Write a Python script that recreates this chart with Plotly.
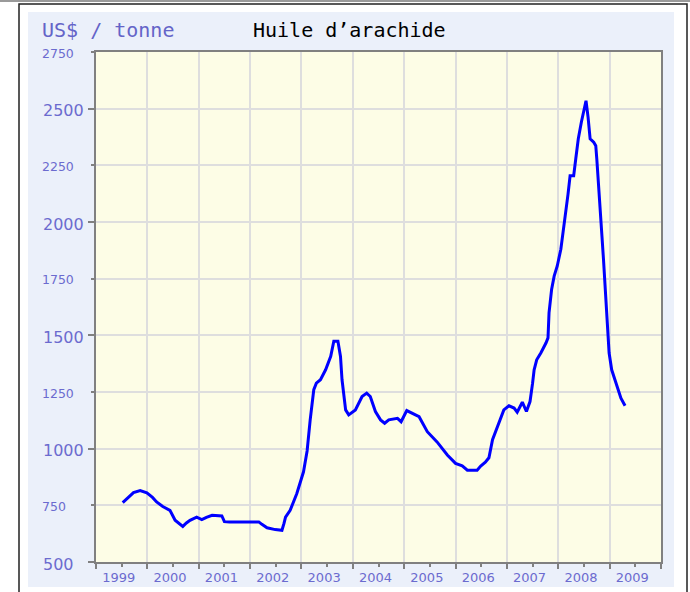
import plotly.graph_objects as go

# ---- data ----
years_t = [
    1999.52, 1999.62, 1999.73, 1999.86, 1999.99, 2000.10, 2000.18, 2000.30, 2000.44, 2000.54,
    2000.69, 2000.76, 2000.83, 2000.96, 2001.06, 2001.15, 2001.26, 2001.45, 2001.50, 2001.60,
    2001.80, 2002.00, 2002.17, 2002.23, 2002.33, 2002.49, 2002.62, 2002.66, 2002.69, 2002.78,
    2002.91, 2003.04, 2003.11, 2003.17, 2003.24, 2003.29, 2003.37, 2003.47, 2003.57, 2003.63,
    2003.71, 2003.76, 2003.79, 2003.86, 2003.92, 2004.05, 2004.18, 2004.27, 2004.34, 2004.44,
    2004.54, 2004.62, 2004.70, 2004.87, 2004.94, 2005.05, 2005.16, 2005.29, 2005.45, 2005.64,
    2005.84, 2006.00, 2006.13, 2006.23, 2006.42, 2006.49, 2006.58, 2006.65, 2006.72, 2006.80,
    2006.88, 2006.94, 2007.04, 2007.14, 2007.20, 2007.30, 2007.38, 2007.45, 2007.50, 2007.53,
    2007.58, 2007.66, 2007.76, 2007.80, 2007.82, 2007.87, 2007.92, 2007.98, 2008.05, 2008.11,
    2008.16, 2008.19, 2008.23, 2008.30, 2008.34, 2008.39, 2008.45, 2008.50, 2008.54, 2008.58,
    2008.62, 2008.69, 2008.73, 2008.75, 2008.78, 2008.82, 2008.85, 2008.88, 2008.91, 2008.93,
    2008.96, 2008.99, 2009.04, 2009.09, 2009.16, 2009.22, 2009.30,
]
price = [
    762, 785, 806, 815, 805, 785, 765, 745, 728, 684,
    657, 672, 684, 698, 687, 697, 706, 703, 678, 676,
    676, 676, 677, 666, 651, 643, 640, 670, 698, 728,
    802, 898, 990, 1127, 1260, 1289, 1304, 1348, 1407, 1474,
    1474, 1407, 1304, 1171, 1149, 1171, 1230, 1245, 1230, 1164,
    1127, 1112, 1127, 1134, 1119, 1168, 1156, 1141, 1075, 1030,
    972, 935, 924, 905, 905, 923, 940, 960, 1040, 1086,
    1141, 1171, 1189, 1179, 1161, 1205, 1164, 1208, 1289, 1348,
    1392, 1422, 1466, 1489, 1599, 1702, 1761, 1806, 1880, 1983,
    2057, 2123, 2204, 2204, 2278, 2367, 2441, 2500, 2535, 2463,
    2367, 2352, 2337, 2278, 2160, 2057, 1939, 1836, 1717, 1614,
    1496, 1422, 1348, 1311, 1260, 1223, 1189,
]

year_labels = ["1999", "2000", "2001", "2002", "2003", "2004",
               "2005", "2006", "2007", "2008", "2009"]
year_bounds = list(range(1999, 2011))
y_major = [500, 1000, 1500, 2000, 2500]
y_minor = [750, 1250, 1750, 2250, 2750]

unit_title = "US$ / tonne"
chart_title = "Huile d’arachide"

# ---- styling ----
W, H = 690, 592
L, R, T, B = 96, 29, 52, 30
pw, ph = W - L - R, H - T - B


def px_x(px):
    return (px - L) / pw


def px_y(py):
    return (H - B - py) / ph


label_col = "#6b6bcf"
panel_col = "#ebf0fa"
plot_col = "#fdfde6"
grid_col = "#dedede"
axis_col = "#808080"

fig = go.Figure()
fig.add_trace(go.Scatter(
    x=years_t, y=price, mode="lines",
    line=dict(color="#0000ff", width=3),
    hoverinfo="skip", showlegend=False,
))

shapes = [
    # top strip
    dict(type="rect", xref="paper", yref="paper", x0=px_x(-5), x1=px_x(700),
         y0=px_y(2), y1=px_y(-5), fillcolor="#9a9a9a", line=dict(width=0), layer="below"),
    # outer border
    dict(type="rect", xref="paper", yref="paper", x0=px_x(19), x1=px_x(687),
         y0=px_y(600), y1=px_y(4), fillcolor="white",
         line=dict(color="#222222", width=1.5), layer="below"),
    # light blue panel
    dict(type="rect", xref="paper", yref="paper", x0=px_x(28), x1=px_x(674),
         y0=px_y(587), y1=px_y(12), fillcolor=panel_col, line=dict(width=0), layer="below"),
    # plot area
    dict(type="rect", xref="paper", yref="paper", x0=0, x1=1, y0=0, y1=1,
         fillcolor=plot_col, line=dict(width=0), layer="below"),
]

annotations = [
    dict(text=unit_title, xref="paper", yref="paper", x=px_x(40), y=px_y(30),
         xanchor="left", yanchor="middle", showarrow=False,
         font=dict(family="DejaVu Sans Mono", size=20, color="#6464c8")),
    dict(text=chart_title, xref="paper", yref="paper", x=px_x(251), y=px_y(30),
         xanchor="left", yanchor="middle", showarrow=False,
         font=dict(family="DejaVu Sans Mono", size=20, color="#000000")),
]
for v in y_major:
    annotations.append(dict(text=str(v), xref="paper", yref="y", x=px_x(41), y=v,
                            xanchor="left", yanchor="middle", showarrow=False, yshift=-2,
                            font=dict(family="DejaVu Sans", size=16, color=label_col)))
for v in y_minor:
    annotations.append(dict(text=str(v), xref="paper", yref="y", x=px_x(40), y=v,
                            xanchor="left", yanchor="middle", showarrow=False, yshift=-1,
                            font=dict(family="DejaVu Sans", size=12.5, color=label_col)))

fig.update_layout(
    width=W, height=H,
    margin=dict(l=L, r=R, t=T, b=B, pad=0, autoexpand=False),
    paper_bgcolor="white", plot_bgcolor="rgba(0,0,0,0)",
    shapes=shapes, annotations=annotations,
    showlegend=False,
    xaxis=dict(
        range=[1999, 2010], tickmode="array", automargin=False,
        tickvals=[y + 0.5 for y in year_bounds[:-1]], ticktext=year_labels,
        ticks="outside", ticklen=3, tickwidth=1.5, tickcolor=axis_col,
        showgrid=False, zeroline=False,
        showline=True, linecolor=axis_col, linewidth=2, mirror=True,
        tickfont=dict(family="DejaVu Sans", size=13, color=label_col),
        ticklabelshift=-3, ticklabelstandoff=-1,
        minor=dict(tickmode="array", tickvals=year_bounds, ticks="outside", ticklen=5,
                   tickwidth=1.5, tickcolor=axis_col,
                   showgrid=True, gridcolor=grid_col, gridwidth=1.5),
    ),
    yaxis=dict(
        range=[500, 2750], tickmode="array", tickvals=y_major, automargin=False,
        showticklabels=False,
        ticks="outside", ticklen=6, tickwidth=1.5, tickcolor=axis_col,
        showgrid=True, gridcolor=grid_col, gridwidth=1.5, zeroline=False,
        showline=True, linecolor=axis_col, linewidth=2, mirror=True,
        minor=dict(tickmode="array", tickvals=y_minor, ticks="outside", ticklen=3,
                   tickwidth=1.5, tickcolor=axis_col,
                   showgrid=True, gridcolor=grid_col, gridwidth=1.5),
    ),
)

fig.write_html(
    "out.html",
    config={"displayModeBar": False},
    post_script="document.body.style.margin='0px';document.body.style.overflow='hidden';",
)
